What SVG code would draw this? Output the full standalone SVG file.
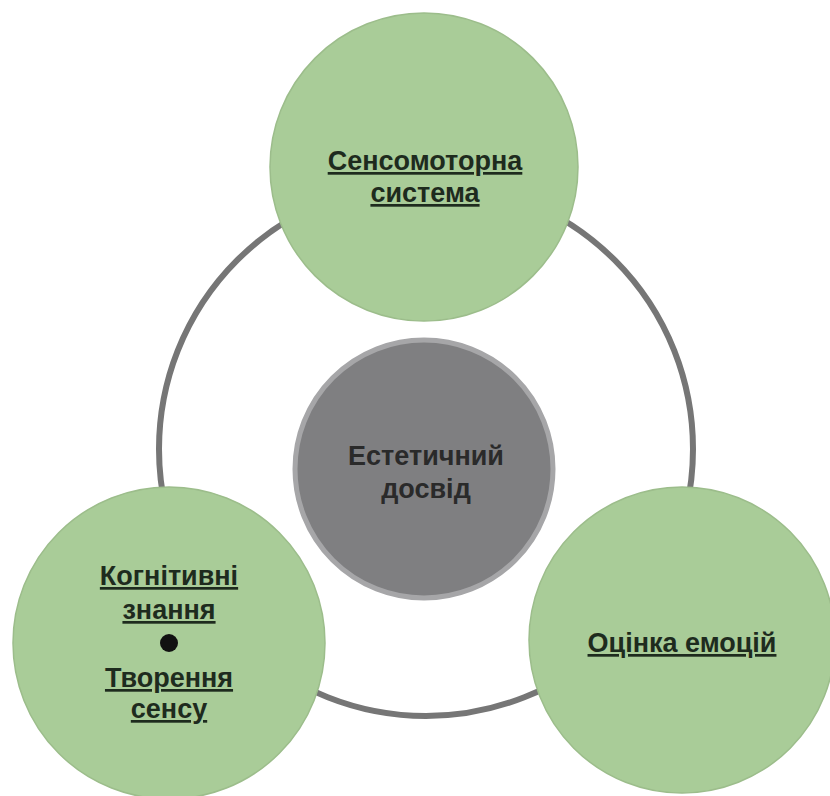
<svg xmlns="http://www.w3.org/2000/svg" width="830" height="796" viewBox="0 0 830 796">
<style>
.green{fill:#a9cc98;stroke:#9cbd8b;stroke-width:1.5}
.lbl{font-family:"Liberation Sans",Arial,sans-serif;font-weight:bold;font-size:27px;text-anchor:middle;fill:#1e2b1e;text-decoration:underline}
.ctr{font-family:"Liberation Sans",Arial,sans-serif;font-weight:bold;font-size:27px;text-anchor:middle;fill:#2a2a2a}
</style>
<rect width="830" height="796" fill="#ffffff"/>
<g id="connectors">
<circle cx="426" cy="449" r="267" fill="none" stroke="#767676" stroke-width="6"/>
</g>
<g id="center">
<circle cx="424" cy="469" r="129" fill="#7f7f81" stroke="#a6a6a8" stroke-width="5"/>
<text class="ctr" x="426" y="465">Естетичний</text>
<text class="ctr" x="426" y="498">досвід</text>
</g>
<g id="top">
<circle class="green" cx="424" cy="167" r="154"/>
<text class="lbl" x="425" y="170">Сенсомоторна</text>
<text class="lbl" x="425" y="202">система</text>
</g>
<g id="left">
<circle class="green" cx="169" cy="643" r="156"/>
<text class="lbl" x="169" y="585">Когнітивні</text>
<text class="lbl" x="169" y="619">знання</text>
<circle cx="169" cy="643" r="9" fill="#111111"/>
<text class="lbl" x="169" y="687">Творення</text>
<text class="lbl" x="169" y="718">сенсу</text>
</g>
<g id="right">
<circle class="green" cx="682" cy="640" r="153"/>
<text class="lbl" x="682" y="652">Оцінка емоцій</text>
</g>
</svg>
